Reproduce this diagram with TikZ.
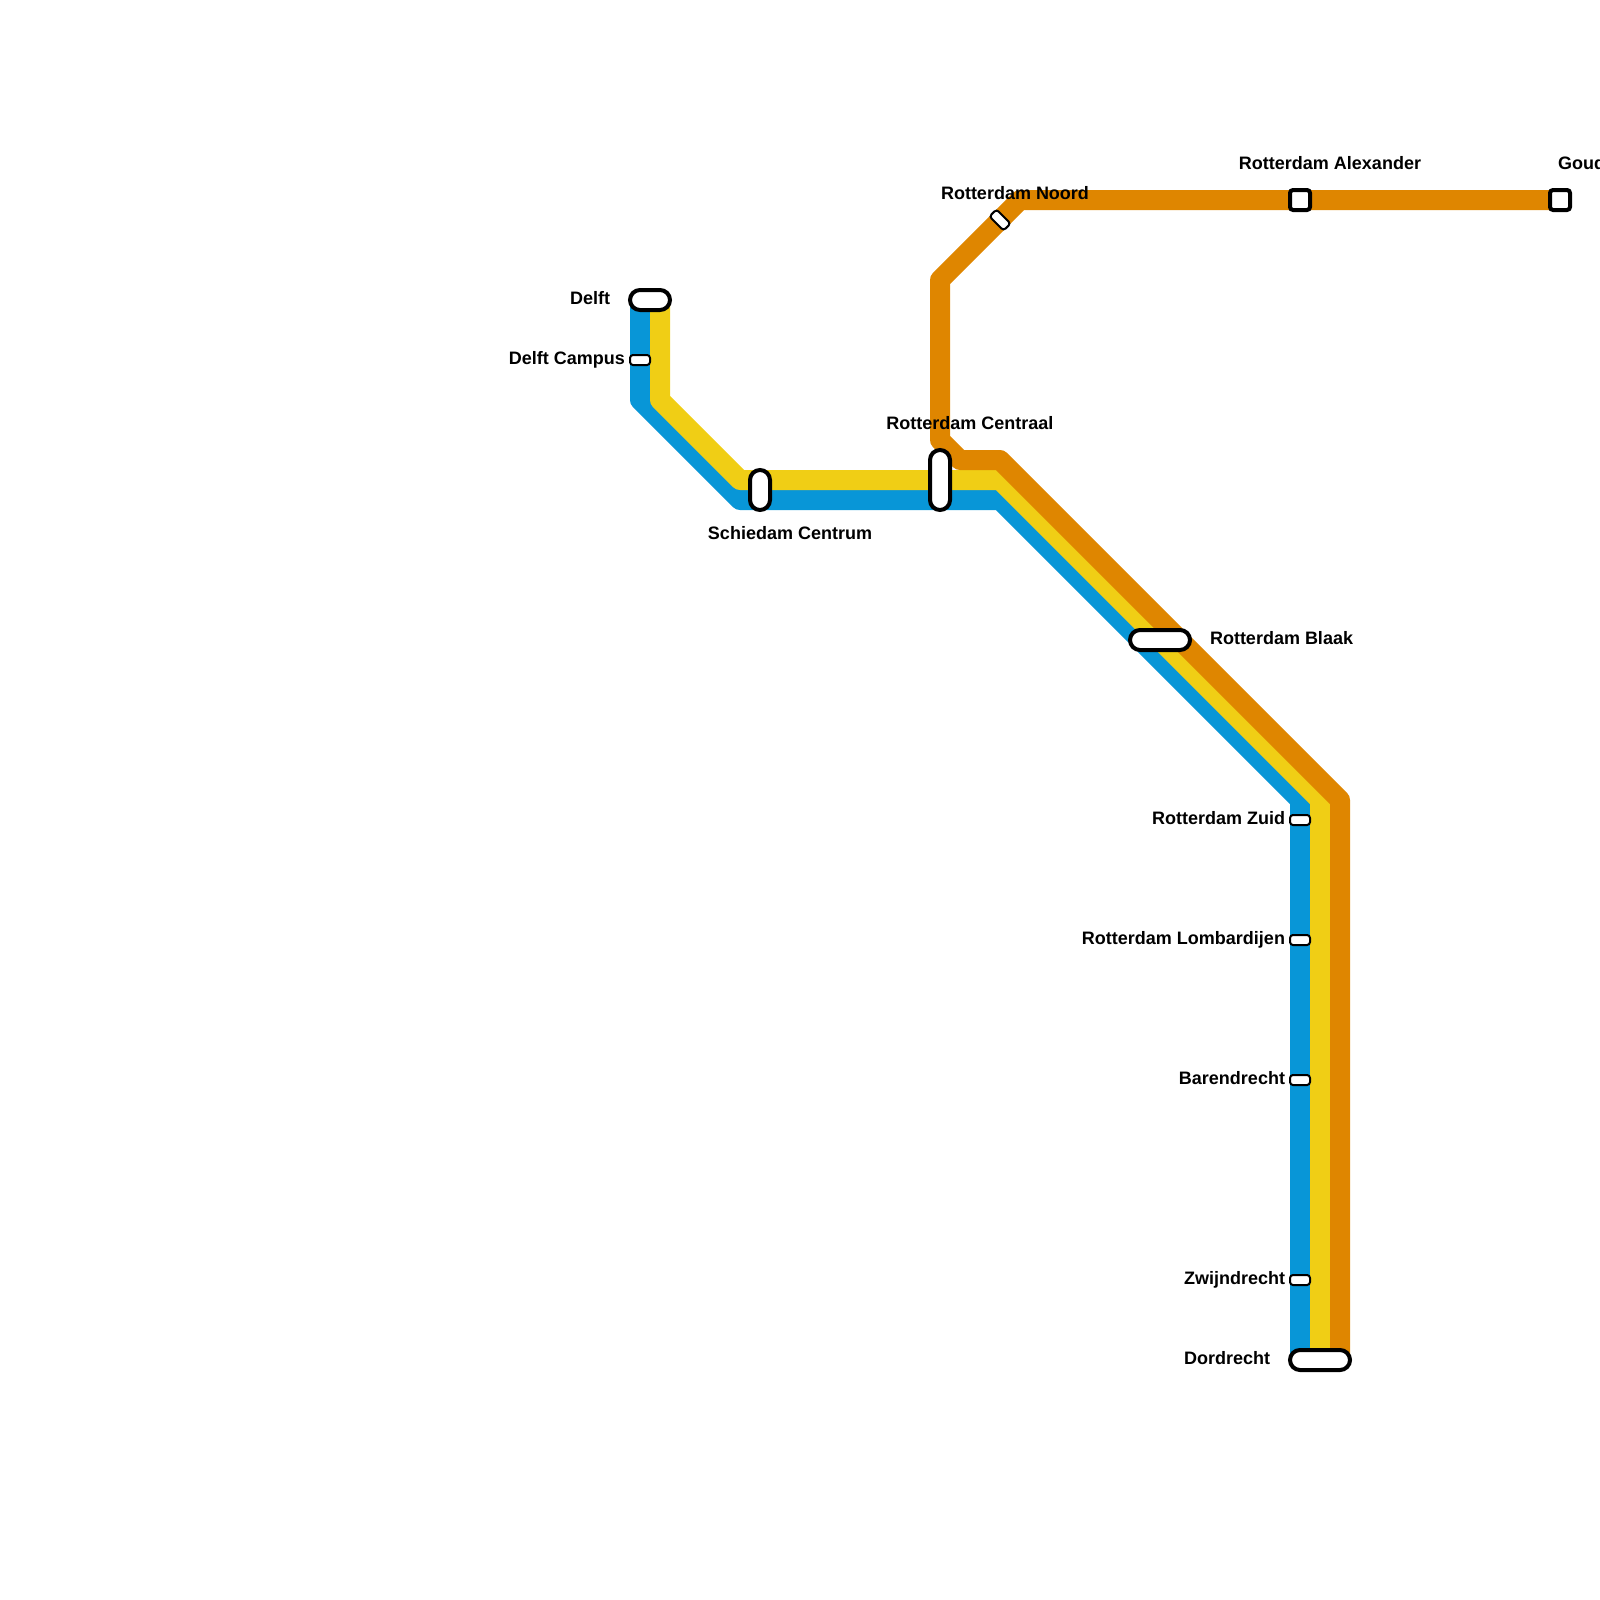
\documentclass[tikz,border=0pt]{standalone}
\usepackage{fontspec}
\setmainfont{Liberation Sans}
\definecolor{lineblue}{HTML}{0896D7}
\definecolor{lineyellow}{HTML}{F0CE15}
\definecolor{lineorange}{HTML}{DF8600}
\tikzset{
  metro/.style={line width=20pt,line join=round,line cap=butt},
  stationbig/.style={draw=black,fill=white,line width=4pt,inner sep=0pt,outer sep=0pt,rounded corners=#1},
  stationbig/.default=10pt,
  stationsmall/.style={draw=black,fill=white,line width=2pt,inner sep=0pt,outer sep=0pt,rounded corners=3pt,minimum width=20pt,minimum height=10pt},
  stationsquare/.style={draw=black,fill=white,line width=4pt,inner sep=0pt,outer sep=0pt,rounded corners=3pt,minimum width=20pt,minimum height=20pt},
  stationlabel/.style={inner sep=0pt,outer sep=0pt,font=\bfseries\fontsize{18}{22}\selectfont,text=black},
}
\begin{document}
\begin{tikzpicture}[x=1pt,y=-1pt]
\useasboundingbox (0,0) rectangle (1600,1600);
\clip (0,0) rectangle (1600,1600);
% station and bend positions
\coordinate (bTop) at (640,300);
\coordinate (bA) at (640,400);
\coordinate (bB) at (740,500);
\coordinate (bC) at (1000,500);
\coordinate (bD) at (1300,800);
\coordinate (bEnd) at (1300,1360);
\coordinate (yTop) at (660,300);
\coordinate (yA) at (660,400);
\coordinate (yB) at (740,480);
\coordinate (yC) at (1000,480);
\coordinate (yD) at (1320,800);
\coordinate (yEnd) at (1320,1360);
\coordinate (oStart) at (1560,200);
\coordinate (oA) at (1020,200);
\coordinate (oB) at (940,280);
\coordinate (oC) at (940,440);
\coordinate (oD) at (960,460);
\coordinate (oE) at (1000,460);
\coordinate (oF) at (1340,800);
\coordinate (oEnd) at (1340,1360);
% lines
\draw[metro,lineblue] (bTop) -- (bA) -- (bB) -- (bC) -- (bD) -- (bEnd);
\draw[metro,lineyellow] (yTop) -- (yA) -- (yB) -- (yC) -- (yD) -- (yEnd);
\draw[metro,lineorange] (oStart) -- (oA) -- (oB) -- (oC) -- (oD) -- (oE) -- (oF) -- (oEnd);
% stations
\node[stationbig,minimum width=40pt,minimum height=20pt] (delft) at (650,300) {};
\node[stationsmall] (campus) at (640,360) {};
\node[stationbig,minimum width=20pt,minimum height=40pt] (schiedam) at (760,490) {};
\node[stationbig,minimum width=20pt,minimum height=60pt] (centraal) at (940,480) {};
\node[stationsmall,rotate=-45] (noord) at (1000,220) {};
\node[stationsquare] (alexander) at (1300,200) {};
\node[stationsquare] (gouda) at (1560,200) {};
\node[stationbig,minimum width=60pt,minimum height=20pt] (blaak) at (1160,640) {};
\node[stationsmall] (zuid) at (1300,820) {};
\node[stationsmall] (lombardijen) at (1300,940) {};
\node[stationsmall] (barendrecht) at (1300,1080) {};
\node[stationsmall] (zwijndrecht) at (1300,1280) {};
\node[stationbig,minimum width=60pt,minimum height=20pt] (dordrecht) at (1320,1360) {};
% labels
\node[stationlabel,anchor=base east] (lDelft) at (610,304) {Delft};
\node[stationlabel,anchor=base east] (lCampus) at (625,364) {Delft Campus};
\node[stationlabel,anchor=base] (lSchiedam) at (790,539) {Schiedam Centrum};
\node[stationlabel,anchor=base] (lCentraal) at (970,429) {Rotterdam Centraal};
\node[stationlabel,anchor=base] (lNoord) at (1015,199) {Rotterdam Noord};
\node[stationlabel,anchor=base] (lAlexander) at (1330,169) {Rotterdam Alexander};
\node[stationlabel,anchor=base west] (lGouda) at (1558,169) {Gouda};
\node[stationlabel,anchor=base west] (lBlaak) at (1210,644) {Rotterdam Blaak};
\node[stationlabel,anchor=base east] (lZuid) at (1285,824) {Rotterdam Zuid};
\node[stationlabel,anchor=base east] (lLomb) at (1285,944) {Rotterdam Lombardijen};
\node[stationlabel,anchor=base east] (lBaren) at (1285,1084) {Barendrecht};
\node[stationlabel,anchor=base east] (lZwijn) at (1285,1284) {Zwijndrecht};
\node[stationlabel,anchor=base east] (lDord) at (1270,1364) {Dordrecht};
\end{tikzpicture}
\end{document}
